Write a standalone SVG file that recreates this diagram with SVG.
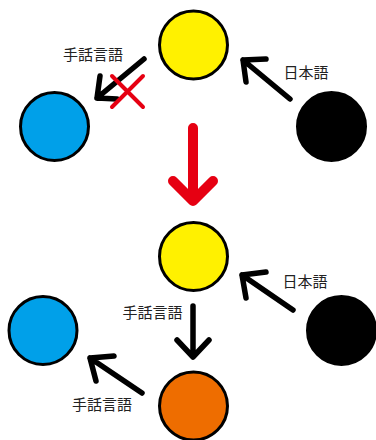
<svg xmlns="http://www.w3.org/2000/svg" width="376" height="440" viewBox="0 0 376 440">
<style>
.node{stroke:#000;stroke-width:3}
.arr{fill:none;stroke:#000;stroke-width:5.5;stroke-linecap:round;stroke-linejoin:round}
.red{fill:none;stroke:#E60012;stroke-linecap:round;stroke-linejoin:round}
text{font-family:"Noto Sans CJK JP","Noto Sans",sans-serif;font-size:15px;fill:#222}
</style>
<rect width="376" height="440" fill="#fff"/>
<g id="connectors">
  <path class="arr" d="M144,59 L97,98 M100,76 L97,98 L117,99"/>
  <path class="red" stroke-width="4" d="M112,76 L143,107 M143,76 L112,107"/>
  <path class="arr" d="M290,99 L243,60 M266,59 L243,60 L246,82"/>
  <path class="red" stroke-width="10" d="M193,128 L193,201 M173,181 L193,201 L213,181"/>
  <path class="arr" d="M293,310 L242,275 M266,272 L242,275 L246,298"/>
  <path class="arr" d="M193,306 L193,357 M177,340 L193,357 L209,340"/>
  <path class="arr" d="M142,393 L90,358 M114,356 L90,358 L96,381"/>
</g>
<g id="top-yellow"><circle class="node" cx="193.5" cy="45" r="34" fill="#FFF100"/></g>
<g id="top-blue"><circle class="node" cx="54.5" cy="126.5" r="34" fill="#00A0E9"/></g>
<g id="top-black"><circle class="node" cx="331.5" cy="126.5" r="34" fill="#000"/></g>
<g id="bottom-yellow"><circle class="node" cx="193.5" cy="256.5" r="34" fill="#FFF100"/></g>
<g id="bottom-blue"><circle class="node" cx="43" cy="330.5" r="34" fill="#00A0E9"/></g>
<g id="bottom-black"><circle class="node" cx="341.5" cy="330.5" r="34" fill="#000"/></g>
<g id="bottom-orange"><circle class="node" cx="193.5" cy="406" r="34" fill="#EE6D00"/></g>
<g id="labels">
  <text x="93" y="60" text-anchor="middle">手話言語</text>
  <text x="306" y="78" text-anchor="middle">日本語</text>
  <text x="152.5" y="318" text-anchor="middle">手話言語</text>
  <text x="305" y="287" text-anchor="middle">日本語</text>
  <text x="102" y="410" text-anchor="middle">手話言語</text>
</g>
</svg>
